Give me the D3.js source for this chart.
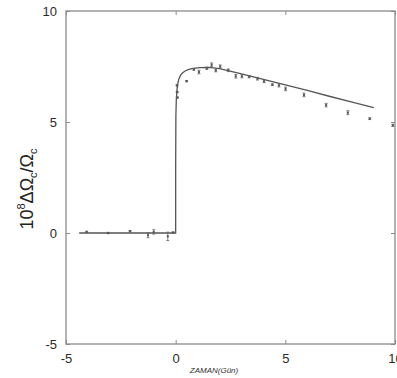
<!DOCTYPE html>
<html>
<head>
<meta charset="utf-8">
<script src="https://cdn.jsdelivr.net/npm/d3@7"></script>
<style>
  html, body { margin: 0; padding: 0; background: #fff; }
  svg { display: block; }
  .axis path, .axis line { stroke: #8a8a8a; }
  .axis text { font-family: "Liberation Sans", Arial, sans-serif; font-size: 13px; fill: #2a2a2a; }
</style>
</head>
<body>
<svg id="chart" width="397" height="378"></svg>
<script>
// Tick values shared by all four sides
const xTicks = [-5, 0, 5, 10];
const yTicks = [-5, 0, 5, 10];

// Observed timing residuals (day, value, error)
const obsDay = [-4.06, -3.08, -2.08, -1.26, -1.0, -0.36, -0.12,
  0.06, 0.07, 0.08, 0.5, 0.83, 1.06, 1.42, 1.64, 1.83, 2.03, 2.4, 2.74, 3.02, 3.35,
  3.73, 4.03, 4.41, 4.71, 5.01, 5.85, 6.86, 7.85, 8.85, 9.9];
const obsVal = [0.05, 0.0, 0.08, -0.1, 0.05, -0.15, 0.02,
  6.65, 6.35, 6.1, 6.84, 7.37, 7.25, 7.42, 7.58, 7.32, 7.5, 7.33, 7.06, 7.06, 7.04,
  6.95, 6.83, 6.68, 6.65, 6.49, 6.22, 5.76, 5.42, 5.15, 4.85];
const obsErr = [0.03, 0.03, 0.03, 0.11, 0.1, 0.19, 0.03,
  0.03, 0.03, 0.03, 0.03, 0.04, 0.08, 0.05, 0.08, 0.06, 0.07, 0.06, 0.08, 0.07, 0.05,
  0.06, 0.06, 0.04, 0.07, 0.08, 0.08, 0.08, 0.09, 0.04, 0.05];

// Model curve (day, value)
const fitDay = [-4.4, 0.0, 0.0, 0.01, 0.03, 0.06, 0.1, 0.15, 0.22, 0.32, 0.45, 0.6, 0.8, 1.1, 1.5, 2.0, 3.0, 4.0, 5.0, 6.0, 7.0, 8.0, 9.03];
const fitVal = [0.0, 0.0, 3.0, 5.3, 6.0, 6.45, 6.75, 6.95, 7.1, 7.22, 7.31, 7.37, 7.42, 7.45, 7.46, 7.4, 7.17, 6.92, 6.67, 6.42, 6.16, 5.91, 5.65];

const svg = d3.select("#chart");
const mLeft = 66, mRight = 395, mTop = 11, mBottom = 344;

const x = d3.scaleLinear().domain([-5, 10]).range([mLeft, mRight]);
const y = d3.scaleLinear().domain([-5, 10]).range([mBottom, mTop]);

// Frame
svg.append("rect")
  .attr("x", mLeft).attr("y", mTop)
  .attr("width", mRight - mLeft).attr("height", mBottom - mTop)
  .attr("fill", "none").attr("stroke", "#8a8a8a").attr("stroke-width", 1.3);

// Axes with inward ticks; labels use a plain hyphen for negatives
const fmt = d => String(d);
svg.append("g").attr("class", "axis").attr("transform", `translate(${mLeft},0)`)
  .call(d3.axisLeft(y).tickValues(yTicks).tickSize(-4).tickPadding(9).tickFormat(fmt));
svg.append("g").attr("class", "axis").attr("transform", `translate(0,${mBottom})`)
  .call(d3.axisBottom(x).tickValues(xTicks).tickSize(-4).tickPadding(10).tickFormat(fmt));
svg.append("g").attr("class", "axis").attr("transform", `translate(${mRight},0)`)
  .call(d3.axisRight(y).tickValues(yTicks).tickSize(-4).tickFormat(""));
svg.append("g").attr("class", "axis").attr("transform", `translate(0,${mTop})`)
  .call(d3.axisTop(x).tickValues(xTicks).tickSize(-4).tickFormat(""));
svg.selectAll(".axis .domain").remove();

// Model curve
const fit = fitDay.map((d, i) => [d, fitVal[i]]);
svg.append("path")
  .datum(fit)
  .attr("fill", "none")
  .attr("stroke", "#555")
  .attr("stroke-width", 1.3)
  .attr("d", d3.line().x(d => x(d[0])).y(d => y(d[1])));

// Observations with error bars
const obs = obsDay.map((d, i) => ({ d, v: obsVal[i], e: obsErr[i] }));
const g = svg.append("g").attr("stroke", "#666").attr("stroke-width", 0.8);
g.selectAll("line.bar").data(obs).join("line").attr("class", "bar")
  .attr("x1", o => x(o.d)).attr("x2", o => x(o.d))
  .attr("y1", o => y(o.v - o.e)).attr("y2", o => y(o.v + o.e));
g.selectAll("line.capHi").data(obs).join("line").attr("class", "capHi")
  .attr("x1", o => x(o.d) - 1.5).attr("x2", o => x(o.d) + 1.5)
  .attr("y1", o => y(o.v + o.e)).attr("y2", o => y(o.v + o.e));
g.selectAll("line.capLo").data(obs).join("line").attr("class", "capLo")
  .attr("x1", o => x(o.d) - 1.5).attr("x2", o => x(o.d) + 1.5)
  .attr("y1", o => y(o.v - o.e)).attr("y2", o => y(o.v - o.e));
svg.append("g").selectAll("rect").data(obs).join("rect")
  .attr("x", o => x(o.d) - 1).attr("y", o => y(o.v) - 1)
  .attr("width", 2).attr("height", 2)
  .attr("fill", "#555");

// Axis titles
svg.append("text")
  .attr("x", 214).attr("y", 373)
  .attr("text-anchor", "middle")
  .attr("font-family", "Liberation Sans, Arial, sans-serif")
  .attr("font-style", "italic")
  .attr("font-size", 8)
  .attr("fill", "#333")
  .text("ZAMAN(Gün)");

const yt = svg.append("text")
  .attr("transform", "translate(33,189) rotate(-90)")
  .attr("text-anchor", "middle")
  .attr("font-family", "Liberation Sans, Arial, sans-serif")
  .attr("font-size", 18)
  .attr("fill", "#222");
yt.append("tspan").text("10");
yt.append("tspan").attr("font-size", 11).attr("dy", -8).text("8");
yt.append("tspan").attr("dy", 8).text("ΔΩ");
yt.append("tspan").attr("font-size", 11).attr("dy", 4).text("c");
yt.append("tspan").attr("dy", -4).text("/Ω");
yt.append("tspan").attr("font-size", 11).attr("dy", 4).text("c");
</script>
</body>
</html>
